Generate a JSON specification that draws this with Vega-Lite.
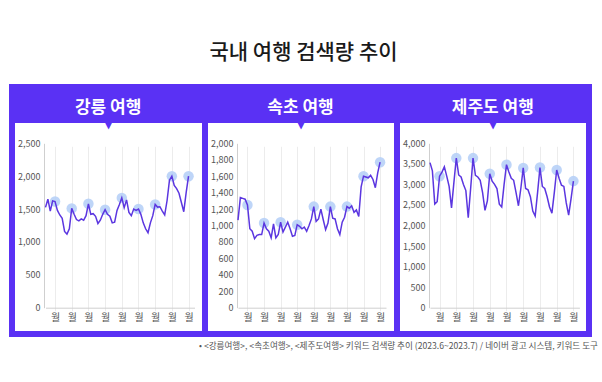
{
  "$schema": "https://vega.github.io/schema/vega-lite/v6.json",
  "background": "white",
  "padding": {"left": 9, "top": 42, "right": 0, "bottom": 0},
  "title": {"text": "국내 여행 검색량 추이", "font": "Noto Sans CJK KR", "fontSize": 21, "fontWeight": 500, "color": "#1a1a1a", "anchor": "middle", "offset": 21},
  "datasets": {
    "gangneung": [
      {"day":0,"value":1525},{"day":1,"value":1650},{"day":2,"value":1470},{"day":3,"value":1625},{"day":4,"value":1615},{"day":5,"value":1480},{"day":6,"value":1410},{"day":7,"value":1360},{"day":8,"value":1160},{"day":9,"value":1120},
      {"day":10,"value":1200},{"day":11,"value":1510},{"day":12,"value":1420},{"day":13,"value":1340},{"day":14,"value":1320},{"day":15,"value":1350},{"day":16,"value":1330},{"day":17,"value":1400},{"day":18,"value":1580},{"day":19,"value":1420},
      {"day":20,"value":1430},{"day":21,"value":1390},{"day":22,"value":1280},{"day":23,"value":1330},{"day":24,"value":1420},{"day":25,"value":1490},{"day":26,"value":1420},{"day":27,"value":1390},{"day":28,"value":1290},{"day":29,"value":1300},
      {"day":30,"value":1480},{"day":31,"value":1570},{"day":32,"value":1670},{"day":33,"value":1520},{"day":34,"value":1640},{"day":35,"value":1450},{"day":36,"value":1400},{"day":37,"value":1500},{"day":38,"value":1480},{"day":39,"value":1500},
      {"day":40,"value":1420},{"day":41,"value":1290},{"day":42,"value":1200},{"day":43,"value":1140},{"day":44,"value":1290},{"day":45,"value":1400},{"day":46,"value":1570},{"day":47,"value":1530},{"day":48,"value":1535},{"day":49,"value":1470},
      {"day":50,"value":1410},{"day":51,"value":1630},{"day":52,"value":1940},{"day":53,"value":2000},{"day":54,"value":1860},{"day":55,"value":1810},{"day":56,"value":1740},{"day":57,"value":1600},{"day":58,"value":1460},{"day":59,"value":1750},
      {"day":60,"value":2000}
    ],
    "sokcho": [
      {"day":0,"value":1065},{"day":1,"value":1340},{"day":2,"value":1330},{"day":3,"value":1320},{"day":4,"value":1250},{"day":5,"value":960},{"day":6,"value":930},{"day":7,"value":840},{"day":8,"value":880},{"day":9,"value":890},
      {"day":10,"value":890},{"day":11,"value":1030},{"day":12,"value":960},{"day":13,"value":930},{"day":14,"value":850},{"day":15,"value":1020},{"day":16,"value":850},{"day":17,"value":890},{"day":18,"value":1040},{"day":19,"value":920},
      {"day":20,"value":980},{"day":21,"value":1040},{"day":22,"value":960},{"day":23,"value":870},{"day":24,"value":880},{"day":25,"value":1010},{"day":26,"value":990},{"day":27,"value":960},{"day":28,"value":980},{"day":29,"value":930},
      {"day":30,"value":1000},{"day":31,"value":1080},{"day":32,"value":1230},{"day":33,"value":1050},{"day":34,"value":1080},{"day":35,"value":1200},{"day":36,"value":1070},{"day":37,"value":950},{"day":38,"value":1030},{"day":39,"value":1230},
      {"day":40,"value":1090},{"day":41,"value":1080},{"day":42,"value":960},{"day":43,"value":890},{"day":44,"value":1040},{"day":45,"value":1100},{"day":46,"value":1230},{"day":47,"value":1210},{"day":48,"value":1240},{"day":49,"value":1160},
      {"day":50,"value":1190},{"day":51,"value":1110},{"day":52,"value":1470},{"day":53,"value":1600},{"day":54,"value":1590},{"day":55,"value":1580},{"day":56,"value":1610},{"day":57,"value":1560},{"day":58,"value":1460},{"day":59,"value":1640},
      {"day":60,"value":1770}
    ],
    "jeju": [
      {"day":0,"value":3530},{"day":1,"value":3330},{"day":2,"value":2520},{"day":3,"value":2580},{"day":4,"value":3200},{"day":5,"value":3300},{"day":6,"value":3430},{"day":7,"value":3200},{"day":8,"value":2950},{"day":9,"value":2430},
      {"day":10,"value":3050},{"day":11,"value":3640},{"day":12,"value":3230},{"day":13,"value":3180},{"day":14,"value":3000},{"day":15,"value":2850},{"day":16,"value":2190},{"day":17,"value":2900},{"day":18,"value":3640},{"day":19,"value":3220},
      {"day":20,"value":3180},{"day":21,"value":3100},{"day":22,"value":2800},{"day":23,"value":2370},{"day":24,"value":2600},{"day":25,"value":3260},{"day":26,"value":3080},{"day":27,"value":3000},{"day":28,"value":2900},{"day":29,"value":2520},
      {"day":30,"value":2450},{"day":31,"value":3000},{"day":32,"value":3480},{"day":33,"value":3300},{"day":34,"value":3150},{"day":35,"value":3100},{"day":36,"value":2800},{"day":37,"value":2480},{"day":38,"value":2900},{"day":39,"value":3400},
      {"day":40,"value":2900},{"day":41,"value":2870},{"day":42,"value":2700},{"day":43,"value":2350},{"day":44,"value":2230},{"day":45,"value":2800},{"day":46,"value":3410},{"day":47,"value":2950},{"day":48,"value":2900},{"day":49,"value":2700},
      {"day":50,"value":2450},{"day":51,"value":2300},{"day":52,"value":2800},{"day":53,"value":3350},{"day":54,"value":3150},{"day":55,"value":2980},{"day":56,"value":2950},{"day":57,"value":2550},{"day":58,"value":2250},{"day":59,"value":2650},
      {"day":60,"value":3080}
    ],
    "headers": [{"region":"강릉 여행"},{"region":"속초 여행"},{"region":"제주도 여행"}]
  },
  "spacing": 0,
  "bounds": "flush",
  "vconcat": [
    {
      "width": 577,
      "height": 33,
      "data": {"name": "headers"},
      "mark": {"type": "text", "color": "white", "fontSize": 17, "fontWeight": "bold", "font": "Noto Sans CJK KR", "baseline": "middle", "dy": 4},
      "encoding": {
        "x": {"field": "region", "type": "nominal", "sort": null, "axis": null},
        "text": {"field": "region"}
      },
      "view": {"fill": "#5a31f4", "stroke": "#5a31f4", "strokeWidth": 6}
    },
    {
      "spacing": 0,
      "bounds": "flush",
      "title": {"text": "• <강릉여행>, <속초여행>, <제주도여행> 키워드 검색량 추이 (2023.6~2023.7) / 네이버 광고 시스템, 키워드 도구", "orient": "bottom", "anchor": "end", "fontSize": 8.6, "fontWeight": "normal", "color": "#555555", "font": "Noto Sans CJK KR", "offset": 5, "dx": 6},
      "hconcat": [
        {
          "width": 193,
          "height": 214,
          "data": {"name": "gangneung"},
          "title": {"text": "▼", "color": "#5a31f4", "fontSize": 13, "font": "DejaVu Sans", "anchor": "middle", "frame": "group", "baseline": "middle", "offset": -17},
          "view": {"fill": "white", "stroke": "#5a31f4", "strokeWidth": 6},
          "encoding": {
            "x": {"field": "day", "type": "quantitative", "scale": {"domain": [0, 62.5], "range": [33.5, 182.5]},
                  "axis": {"values": [4, 11, 18, 25, 32, 39, 46, 53, 60], "labelExpr": "'월'", "labelAngle": 0, "grid": true, "gridColor": "#ececec", "ticks": false, "domainColor": "#cfcfcf", "labelColor": "#555555", "labelFontSize": 10, "labelPadding": 5, "labelFont": "Noto Sans CJK KR", "title": null, "offset": -26.3}},
            "y": {"field": "value", "type": "quantitative", "scale": {"domain": [0, 2500], "range": [187.7, 23.3]},
                  "axis": {"values": [0, 500, 1000, 1500, 2000, 2500], "format": ",d", "grid": false, "ticks": false, "domainColor": "#cfcfcf", "labelColor": "#555555", "labelFontSize": 9, "labelPadding": 4, "labelFont": "Noto Sans CJK KR", "title": null, "offset": -32}}
          },
          "layer": [
            {"transform": [{"filter": "datum.day % 7 == 4"}], "mark": {"type": "circle", "size": 110, "color": "#b7d0f7", "opacity": 0.9}},
            {"mark": {"type": "line", "color": "#5b36e0", "strokeWidth": 1.5}}
          ]
        },
        {
          "width": 192,
          "height": 214,
          "data": {"name": "sokcho"},
          "title": {"text": "▼", "color": "#5a31f4", "fontSize": 13, "font": "DejaVu Sans", "anchor": "middle", "frame": "group", "baseline": "middle", "offset": -17},
          "view": {"fill": "white", "stroke": "#5a31f4", "strokeWidth": 6},
          "encoding": {
            "x": {"field": "day", "type": "quantitative", "scale": {"domain": [0, 62.5], "range": [33, 181]},
                  "axis": {"values": [4, 11, 18, 25, 32, 39, 46, 53, 60], "labelExpr": "'월'", "labelAngle": 0, "grid": true, "gridColor": "#ececec", "ticks": false, "domainColor": "#cfcfcf", "labelColor": "#555555", "labelFontSize": 10, "labelPadding": 5, "labelFont": "Noto Sans CJK KR", "title": null, "offset": -26.3}},
            "y": {"field": "value", "type": "quantitative", "scale": {"domain": [0, 2000], "range": [187.7, 23.3]},
                  "axis": {"values": [0, 200, 400, 600, 800, 1000, 1200, 1400, 1600, 1800, 2000], "format": ",d", "grid": false, "ticks": false, "domainColor": "#cfcfcf", "labelColor": "#555555", "labelFontSize": 9, "labelPadding": 4, "labelFont": "Noto Sans CJK KR", "title": null, "offset": -32}}
          },
          "layer": [
            {"transform": [{"filter": "datum.day % 7 == 4"}], "mark": {"type": "circle", "size": 110, "color": "#b7d0f7", "opacity": 0.9}},
            {"mark": {"type": "line", "color": "#5b36e0", "strokeWidth": 1.5}}
          ]
        },
        {
          "width": 192,
          "height": 214,
          "data": {"name": "jeju"},
          "title": {"text": "▼", "color": "#5a31f4", "fontSize": 13, "font": "DejaVu Sans", "anchor": "middle", "frame": "group", "baseline": "middle", "offset": -17},
          "view": {"fill": "white", "stroke": "#5a31f4", "strokeWidth": 6},
          "encoding": {
            "x": {"field": "day", "type": "quantitative", "scale": {"domain": [0, 62.5], "range": [33, 182.4]},
                  "axis": {"values": [4, 11, 18, 25, 32, 39, 46, 53, 60], "labelExpr": "'월'", "labelAngle": 0, "grid": true, "gridColor": "#ececec", "ticks": false, "domainColor": "#cfcfcf", "labelColor": "#555555", "labelFontSize": 10, "labelPadding": 5, "labelFont": "Noto Sans CJK KR", "title": null, "offset": -26.3}},
            "y": {"field": "value", "type": "quantitative", "scale": {"domain": [0, 4000], "range": [187.7, 23.3]},
                  "axis": {"values": [0, 500, 1000, 1500, 2000, 2500, 3000, 3500, 4000], "format": ",d", "grid": false, "ticks": false, "domainColor": "#cfcfcf", "labelColor": "#555555", "labelFontSize": 9, "labelPadding": 4, "labelFont": "Noto Sans CJK KR", "title": null, "offset": -32}}
          },
          "layer": [
            {"transform": [{"filter": "datum.day % 7 == 4"}], "mark": {"type": "circle", "size": 110, "color": "#b7d0f7", "opacity": 0.9}},
            {"mark": {"type": "line", "color": "#5b36e0", "strokeWidth": 1.5}}
          ]
        }
      ]
    }
  ]
}
